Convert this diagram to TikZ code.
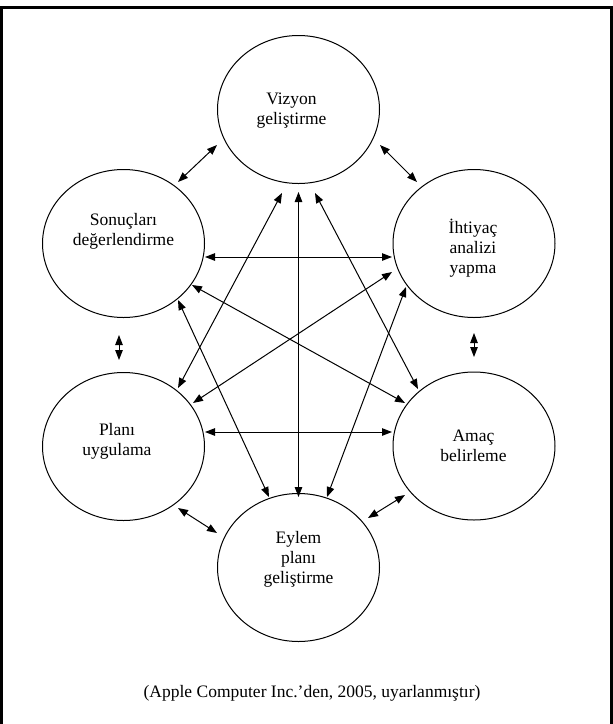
\documentclass[tikz,border=0pt]{standalone}
\usepackage{fontspec}
\setmainfont{Liberation Serif}
\usetikzlibrary{shapes.geometric,arrows.meta,calc}
\begin{document}
\begin{tikzpicture}[x=1pt,y=-1pt,
  circ/.style={ellipse,draw,line width=1pt,minimum width=162pt,minimum height=148pt,inner sep=0pt},
  lbl/.style={align=center,font=\fontsize{17.5}{20}\selectfont,inner sep=0pt},
  tip/.tip={Triangle[length=10pt,width=7.5pt]},
  dbl/.style={line width=1pt,tip-tip}]
\useasboundingbox (0,0) rectangle (613,724);
\draw[line width=3pt] (1,740) -- (1,7.5) -- (611,7.5) -- (611,740);

\node[circ] (viz) at (298.5,109.5) {};
\node[circ] (son) at (123.5,243.5) {};
\node[circ] (iht) at (474,243.5) {};
\node[circ] (pla) at (123.5,446.5) {};
\node[circ] (ama) at (474,446) {};
\node[circ] (eyl) at (298.5,567.5) {};

\node[lbl] (vizt) at (291.5,111) {Vizyon\\geliştirme};
\node[lbl] (sont) at (123.5,231.5) {Sonuçları\\değerlendirme};
\node[lbl] (ihtt) at (473,248.5) {İhtiyaç\\analizi\\yapma};
\node[lbl] (plat) at (117,441) {Planı\\uygulama};
\node[lbl] (amat) at (473.5,446) {Amaç\\belirleme};
\node[lbl] (eylt) at (298.5,559) {Eylem\\planı\\geliştirme};
\node[lbl,anchor=base] (cap) at (312,697) {(Apple Computer Inc.’den, 2005, uyarlanmıştır)};

% neighbours
\draw[dbl] ($(viz)+(-81.5,35.5)$) -- ($(son)+(54.5,-61.5)$);
\draw[dbl] ($(viz)+(81.5,35.5)$) -- ($(iht)+(-57,-61.5)$);
\draw[dbl] ($(son)+(-4.5,91.5)$) -- ($(pla)+(-4.5,-86.5)$);
\draw[dbl] ($(iht)+(0,89.5)$) -- ($(ama)+(0,-89)$);
\draw[dbl] ($(pla)+(54.5,61.5)$) -- ($(eyl)+(-81.5,-34.5)$);
\draw[dbl] ($(ama)+(-69,49)$) -- ($(eyl)+(69.5,-49.5)$);
% horizontals and vertical
\draw[dbl] ($(son)+(81.5,13.5)$) -- ($(iht)+(-82,13.5)$);
\draw[dbl] ($(pla)+(81.5,-14.5)$) -- ($(ama)+(-82,-14)$);
\draw[dbl] ($(viz)+(0,82.5)$) -- ($(eyl)+(0,-70.5)$);
% diagonals
\draw[dbl] ($(viz)+(-16.5,83.5)$) -- ($(pla)+(54.5,-58.5)$);
\draw[dbl] ($(viz)+(16.5,83.5)$) -- ($(ama)+(-56,-57)$);
\draw[dbl] ($(iht)+(-82,28.5)$) -- ($(pla)+(69.5,-43.5)$);
\draw[dbl] ($(son)+(68.5,41.5)$) -- ($(ama)+(-69,-43)$);
\draw[dbl] ($(son)+(54.5,56.5)$) -- ($(eyl)+(-29.5,-70.5)$);
\draw[dbl] ($(iht)+(-68,43.5)$) -- ($(eyl)+(28.5,-70.5)$);
\end{tikzpicture}
\end{document}
